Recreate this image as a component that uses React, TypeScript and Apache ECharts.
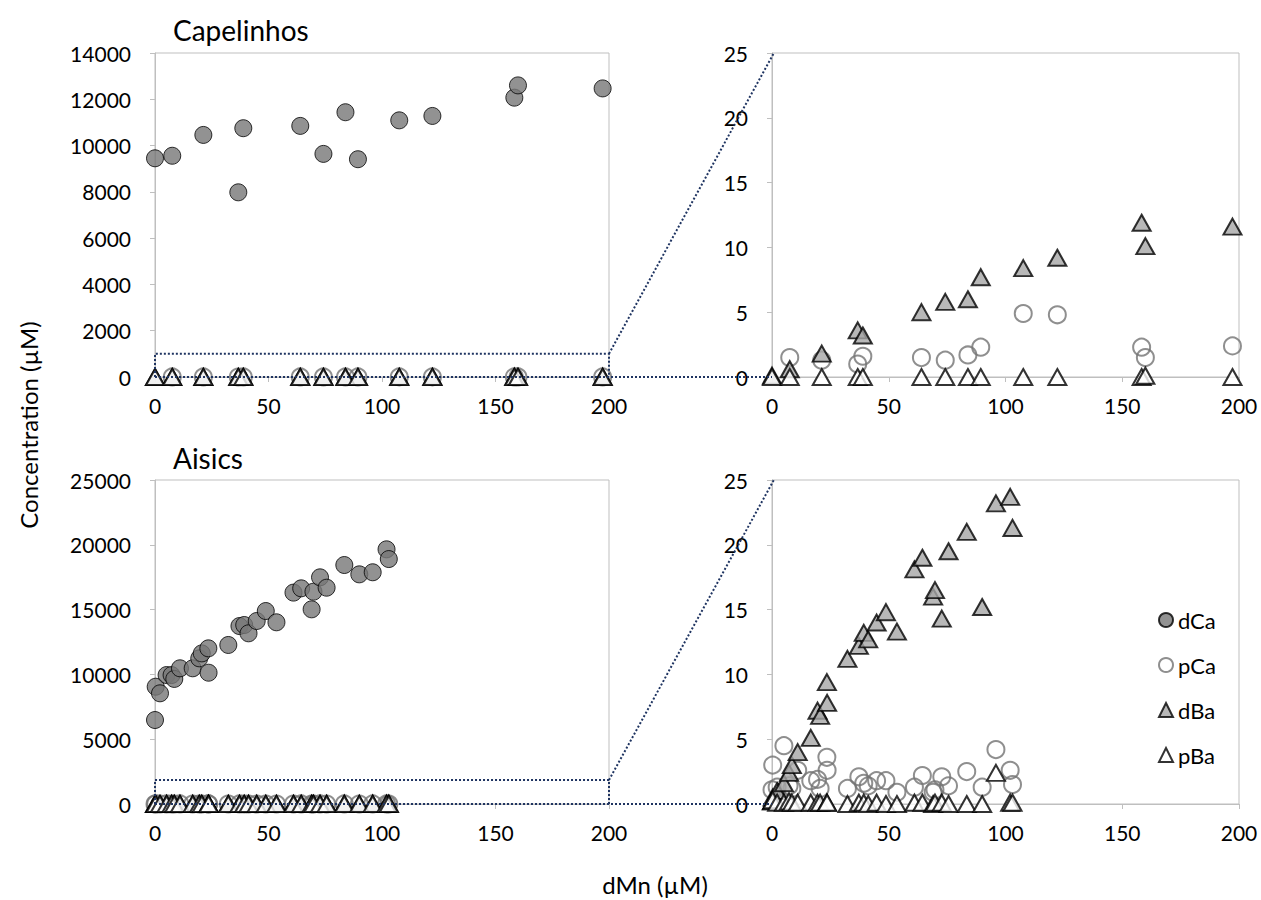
import React, { useEffect, useRef } from "react";
import * as echarts from "echarts";

// Capelinhos
const xCap = [0, 7.6, 21.3, 36.7, 38.9, 64, 74.2, 83.9, 89.4, 107.6, 122.2, 158.3, 159.9, 197.2];
const dCaCap = [9450, 9560, 10460, 7980, 10750, 10850, 9640, 11440, 9410, 11090, 11280, 12070, 12600, 12470];
const pCaCap: (number | null)[] = [null, 1.5, 1.3, 1.0, 1.6, 1.5, 1.3, 1.7, 2.3, 4.9, 4.8, 2.3, 1.5, 2.4];
const dBaCap = [0.1, 0.6, 1.8, 3.6, 3.2, 5.0, 5.8, 6.0, 7.7, 8.4, 9.2, 11.9, 10.1, 11.6];
const pBaCap = [0, 0, 0, 0, 0, 0, 0, 0, 0, 0, 0, 0, 0.1, 0];

// Aisics
const xAis = [0, 0.3, 2.2, 5.1, 7.3, 8.5, 11, 16.6, 19.5, 20.6, 23.5, 23.6, 32.3, 37.2, 39.3, 41.2, 44.8, 48.8, 53.5, 61, 64.4, 69, 69.8, 72.7, 75.6, 83.4, 90, 95.9, 102, 103];
const dCaAis = [6480, 9050, 8540, 9950, 9950, 9650, 10470, 10470, 11240, 11620, 12010, 10130, 12270, 13730, 13810, 13170, 14120, 14890, 14020, 16310, 16640, 15020, 16380, 17490, 16690, 18440, 17720, 17880, 19650, 18900];
const pCaAis = [1.1, 3.0, 1.3, 4.5, 1.4, 1.2, 2.6, 1.8, 1.9, 1.2, 3.6, 2.6, 1.2, 2.1, 1.6, 1.4, 1.8, 1.8, 0.9, 1.3, 2.2, 0.9, 1.1, 2.1, 1.4, 2.5, 1.3, 4.2, 2.6, 1.5];
const dBaAis = [0.2, 0.5, 1.0, 1.6, 2.4, 3.0, 4.0, 5.1, 7.2, 6.8, 9.4, 7.8, 11.2, 12.2, 13.2, 12.7, 14.0, 14.8, 13.3, 18.1, 19.0, 16.0, 16.5, 14.3, 19.5, 21.0, 15.2, 23.2, 23.7, 21.3];
const pBaAis = [0.2, 0.3, 0.1, 0.1, 0.2, 0.1, 0.1, 0.1, 0.1, 0.1, 0.1, 0.1, 0, 0.1, 0.1, 0, 0.1, 0, 0, 0.1, 0.1, 0, 0.1, 0.1, 0, 0, 0, 2.4, 0.1, 0.1];

const xTicks = { min: 0, max: 200, interval: 50 };
const yCapFull = { min: 0, max: 14000, interval: 2000 };
const yAisFull = { min: 0, max: 25000, interval: 5000 };
const yZoom = { min: 0, max: 25, interval: 5 };
const zoomBoxCap = 1000;
const zoomBoxAis = 1850;

const FONT = "Lato, 'Open Sans', sans-serif";
const AXIS_GRAY = "#bfbfbf";
const NAVY = "#1f3461";

const pairs = (xs: number[], ys: (number | null)[]) =>
  xs.map((x, i) => (ys[i] == null ? null : [x, ys[i] as number])).filter((d) => d !== null);

const styles: Record<string, any> = {
  dCa: { symbol: "circle", symbolSize: 17, itemStyle: { color: "#777777", borderColor: "#000", borderWidth: 1 } },
  pCa: { symbol: "circle", symbolSize: 17, itemStyle: { color: "rgba(255,255,255,0)", borderColor: "#737373", borderWidth: 2 } },
  dBa: { symbol: "triangle", symbolSize: [18, 16], itemStyle: { color: "#a6a6a6", borderColor: "#000", borderWidth: 2 } },
  pBa: { symbol: "triangle", symbolSize: [18, 16], itemStyle: { color: "#ffffff", borderColor: "#000", borderWidth: 2 } },
};

function mkSeries(name: string, data: any[], g: number) {
  return {
    type: "scatter",
    name,
    data,
    xAxisIndex: g,
    yAxisIndex: g,
    clip: false,
    silent: true,
    emphasis: { disabled: true },
    ...styles[name],
  };
}

const plain = (v: number) => String(v);

function xAxis(g: number) {
  return {
    type: "value",
    gridIndex: g,
    ...xTicks,
    axisLine: { show: true, onZero: false, lineStyle: { color: AXIS_GRAY, width: 1 } },
    axisTick: { show: true, inside: false, length: 5, lineStyle: { color: AXIS_GRAY } },
    axisLabel: { color: "#000", fontSize: 21, fontFamily: FONT, margin: 18, formatter: plain },
    splitLine: { show: false },
  };
}

function yAxis(g: number, range: any) {
  return {
    type: "value",
    gridIndex: g,
    ...range,
    axisLine: { show: true, lineStyle: { color: AXIS_GRAY, width: 1 } },
    axisTick: { show: true, inside: false, length: 5, lineStyle: { color: AXIS_GRAY } },
    axisLabel: { color: "#000", fontSize: 21, fontFamily: FONT, margin: 24, formatter: plain },
    splitLine: { show: false },
  };
}

export default function App() {
  const ref = useRef<HTMLDivElement>(null);
  useEffect(() => {
    if (!ref.current) return;
    const chart = echarts.init(ref.current, null, { renderer: "svg" });
    const gridBase = { show: true, borderColor: AXIS_GRAY, borderWidth: 1, backgroundColor: "transparent", containLabel: false };
    const texts: any[] = [
      { type: "text", x: 173, y: 30, style: { text: "Capelinhos", font: `28px ${FONT}`, fill: "#000", verticalAlign: "middle" } },
      { type: "text", x: 173, y: 458, style: { text: "Aisics", font: `28px ${FONT}`, fill: "#000", verticalAlign: "middle" } },
      { type: "text", x: 28, y: 425, rotation: Math.PI / 2, style: { text: "Concentration (µM)", font: `24px ${FONT}`, fill: "#000", align: "center", verticalAlign: "middle" } },
      { type: "text", x: 655, y: 884, style: { text: "dMn (µM)", font: `24px ${FONT}`, fill: "#000", align: "center", verticalAlign: "middle" } },
    ];
    const option: any = {
      animation: false,
      grid: [
        { ...gridBase, left: 155, top: 53, width: 454, height: 324 },
        { ...gridBase, left: 772, top: 53, width: 467, height: 324 },
        { ...gridBase, left: 155, top: 480, width: 454, height: 324 },
        { ...gridBase, left: 772, top: 480, width: 467, height: 324 },
      ],
      xAxis: [xAxis(0), xAxis(1), xAxis(2), xAxis(3)],
      yAxis: [yAxis(0, yCapFull), yAxis(1, yZoom), yAxis(2, yAisFull), yAxis(3, yZoom)],
      legend: {
        orient: "vertical",
        left: 1153,
        top: 604,
        itemWidth: 14,
        itemHeight: 14,
        itemGap: 23,
        data: ["dCa", "pCa", "dBa", "pBa"],
        textStyle: { color: "#000", fontSize: 22, fontFamily: FONT },
        selectedMode: false,
      },
      series: [
        mkSeries("dCa", pairs(xCap, dCaCap), 0),
        mkSeries("pCa", pairs(xCap, pCaCap), 0),
        mkSeries("dBa", pairs(xCap, dBaCap), 0),
        mkSeries("pBa", pairs(xCap, pBaCap), 0),
        mkSeries("pCa", pairs(xCap, pCaCap), 1),
        mkSeries("dBa", pairs(xCap, dBaCap), 1),
        mkSeries("pBa", pairs(xCap, pBaCap), 1),
        mkSeries("dCa", pairs(xAis, dCaAis), 2),
        mkSeries("pCa", pairs(xAis, pCaAis), 2),
        mkSeries("dBa", pairs(xAis, dBaAis), 2),
        mkSeries("pBa", pairs(xAis, pBaAis), 2),
        mkSeries("pCa", pairs(xAis, pCaAis), 3),
        mkSeries("dBa", pairs(xAis, dBaAis), 3),
        mkSeries("pBa", pairs(xAis, pBaAis), 3),
      ],
      graphic: texts,
    };
    chart.setOption(option);

    const px = (g: number, v: number[]) => chart.convertToPixel({ gridIndex: g } as any, v) as number[];
    const lineStyle = { stroke: NAVY, lineWidth: 2, lineDash: [2, 2], fill: null };
    const zoomLines = (gl: number, gr: number, boxTop: number, xMax: number) => {
      const A = px(gl, [0, boxTop]);
      const B = px(gl, [xMax, boxTop]);
      const C = px(gl, [xMax, 0]);
      const D = px(gl, [0, 0]);
      const E = px(gr, [0.8, 25]);
      const F = px(gr, [0, 0]);
      return [
        { type: "polyline", z: 100, shape: { points: [D, A, B, C] }, style: lineStyle, silent: true },
        { type: "line", z: 100, shape: { x1: B[0], y1: B[1], x2: E[0], y2: E[1] }, style: lineStyle, silent: true },
        { type: "line", z: 100, shape: { x1: D[0], y1: D[1], x2: F[0], y2: F[1] }, style: lineStyle, silent: true },
      ];
    };
    chart.setOption({
      graphic: [...texts, ...zoomLines(0, 1, zoomBoxCap, 200), ...zoomLines(2, 3, zoomBoxAis, 200)],
    });
    return () => chart.dispose();
  }, []);
  return <div ref={ref} style={{ position: "absolute", left: 0, top: 0, width: 1261, height: 900 }} />;
}
